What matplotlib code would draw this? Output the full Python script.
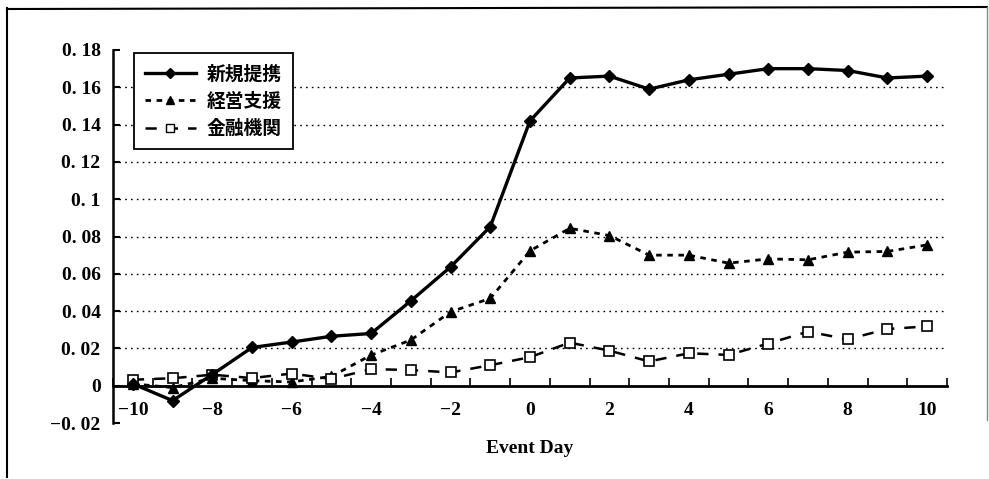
import matplotlib
matplotlib.use("Agg")
import matplotlib.pyplot as plt
from matplotlib.lines import Line2D
import numpy as np

days = list(range(-10, 11))
shinki = [0.001, -0.008, 0.006, 0.0205, 0.0234, 0.0265, 0.028, 0.0455, 0.0637, 0.0853,
          0.142, 0.165, 0.166, 0.159, 0.164, 0.167, 0.170, 0.170, 0.169, 0.165, 0.166]
keiei = [0.001, -0.001, 0.004, 0.0027, 0.002, 0.005, 0.0164, 0.0245, 0.0396, 0.0468,
         0.0723, 0.0844, 0.0805, 0.070, 0.070, 0.0657, 0.068, 0.0675, 0.0716, 0.072, 0.0755]
kinyu = [0.0032, 0.004, 0.0059, 0.0041, 0.0065, 0.0036, 0.0089, 0.0084, 0.0071, 0.011,
         0.0153, 0.0231, 0.0188, 0.013, 0.0174, 0.0165, 0.0226, 0.029, 0.0249, 0.0304, 0.0318]
series_names = ["新規提携", "経営支援", "金融機関"]
yticks = [-0.02, 0, 0.02, 0.04, 0.06, 0.08, 0.1, 0.12, 0.14, 0.16, 0.18]
ytick_labels = ["\u22120. 02", "0", "0. 02", "0. 04", "0. 06", "0. 08", "0. 1",
                "0. 12", "0. 14", "0. 16", "0. 18"]
xticks = [-10, -8, -6, -4, -2, 0, 2, 4, 6, 8, 10]
xtick_labels = ["\u221210", "\u22128", "\u22126", "\u22124", "\u22122", "0", "2", "4", "6", "8", "10"]

serif = ["Liberation Serif", "DejaVu Serif"]
cjk = ["Noto Sans CJK JP", "DejaVu Sans"]

fig = plt.figure(figsize=(9.89, 4.79), dpi=100)
ax = fig.add_axes([113/989, 1-423/479, (947-113)/989, (423-50)/479])

ax.plot(days, shinki, color="black", lw=2.4, ls="-", marker="D", ms=6,
        mfc="black", mec="black", zorder=5)
ax.plot(days, keiei, color="black", lw=2.0, ls=(0, (2.0, 2.0)), marker="^", ms=7,
        mfc="black", mec="black", zorder=4)
ax.plot(days, kinyu, color="black", lw=1.8, ls=(0, (4.5, 4.0)), marker="s", ms=6.5,
        mfc="white", mec="black", mew=1.2, zorder=4)

ax.set_xlim(-10.5, 10.5)
ax.set_ylim(-0.02, 0.18)

for s in ["top", "right"]:
    ax.spines[s].set_visible(False)
ax.spines["bottom"].set_position(("data", 0))
ax.spines["bottom"].set_linewidth(2.0)
ax.spines["left"].set_linewidth(1.8)

ax.set_yticks(yticks)
ax.set_yticklabels(ytick_labels, fontfamily=serif, fontsize=14, fontweight="bold")
ax.tick_params(axis="y", direction="in", length=5, width=1.5, pad=9)

ax.set_xticks(xticks)
ax.set_xticklabels(xtick_labels, fontfamily=serif, fontsize=14, fontweight="bold")
ax.set_xticks(np.arange(-10.5, 10.6, 1.0), minor=True)
ax.tick_params(axis="x", which="major", length=0, pad=12)
ax.tick_params(axis="x", which="minor", direction="in", length=6, width=1.2)

for yv in yticks[2:-1]:
    ax.axhline(yv, color="black", lw=1.0, ls=(0, (1.2, 3.0)), zorder=1)

ax.text(0, -0.0335, "Event Day", ha="center", va="center", fontfamily=serif,
        fontsize=14, fontweight="bold")

handles = [
    Line2D([], [], color="black", lw=2.4, marker="D", ms=5),
    Line2D([], [], color="black", lw=2.0, ls=(0, (2.0, 2.0)), marker="^", ms=6),
    Line2D([], [], color="black", lw=1.8, ls=(0, (4.5, 4.0)), marker="s", ms=6,
           mfc="white", mec="black"),
]
leg = ax.legend(handles, series_names, loc="upper left", bbox_to_anchor=(0.025, 0.992),
                prop={"family": cjk, "size": 13.5, "weight": "bold"},
                frameon=True, fancybox=False, framealpha=1, edgecolor="black",
                handlelength=2.7, labelspacing=0.45, borderpad=0.6, handletextpad=0.6,
                borderaxespad=0)
leg.get_frame().set_linewidth(1.3)

# outer page frame
fig.add_artist(Line2D([7/989, 7/989], [1-477/479, 1-8/479], color="black", lw=1.5,
                      transform=fig.transFigure))
fig.add_artist(Line2D([7/989, 987/989], [1-9/479, 1-7/479], color="black", lw=1.5,
                      transform=fig.transFigure))
fig.add_artist(Line2D([987/989, 987/989], [1-7/479, 1-420/479], color="#888888", lw=1.0,
                      transform=fig.transFigure))

fig.savefig("out.png", dpi=100, facecolor="white")
